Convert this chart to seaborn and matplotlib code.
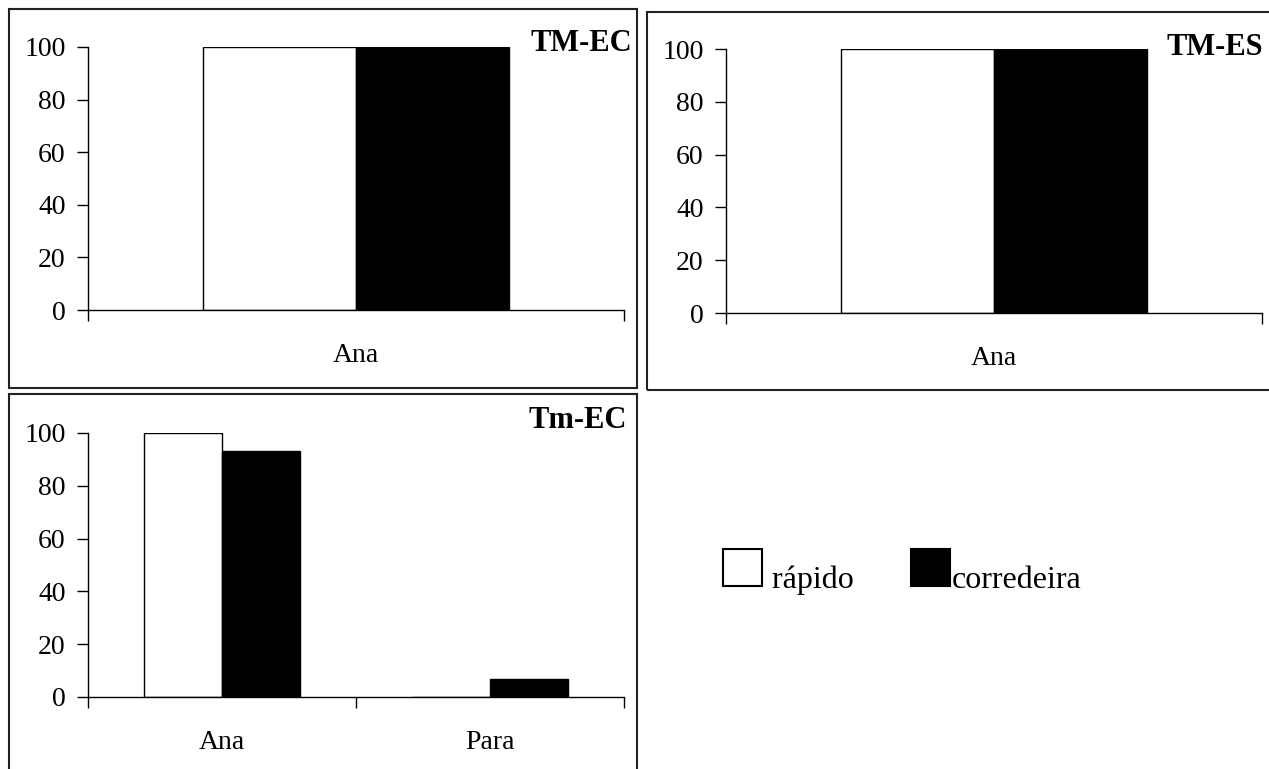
import matplotlib
matplotlib.use("Agg")
import matplotlib.pyplot as plt
import matplotlib.patches as mpatches
from matplotlib.legend_handler import HandlerPatch
import seaborn as sns
import pandas as pd

# ── DATA ──────────────────────────────────────────────────
SERIES = ["rápido", "corredeira"]

tm_ec_sites = ["Ana"]
tm_ec_rapido = [100]
tm_ec_corredeira = [100]

tm_es_sites = ["Ana"]
tm_es_rapido = [100]
tm_es_corredeira = [100]

tmin_ec_sites = ["Ana", "Para"]
tmin_ec_rapido = [100, 0]
tmin_ec_corredeira = [93, 7]

y_ticks = [0, 20, 40, 60, 80, 100]
# ─────────────────────────────────────────────────────────

W, H = 1269, 769
PALETTE = {"rápido": "white", "corredeira": "black"}


def long_table(sites, rapido, corredeira):
    return pd.DataFrame({
        "site": list(sites) * 2,
        "tipo": ["rápido"] * len(sites) + ["corredeira"] * len(sites),
        "valor": list(rapido) + list(corredeira),
    })


def px_rect(left, top, right, bottom):
    """pixel box -> figure fraction [l, b, w, h]"""
    return [left / W, 1 - bottom / H, (right - left) / W, (bottom - top) / H]


def draw_panel(fig, rect, df, sites, width):
    ax = fig.add_axes(rect)
    sns.barplot(data=df, x="site", y="valor", hue="tipo", order=sites,
                hue_order=SERIES, palette=PALETTE, width=width,
                edgecolor="black", linewidth=1, ax=ax)
    n = len(sites)
    ax.set_xlim(-0.5, n - 0.5)
    ax.set_ylim(0, 100)
    ax.set_yticks(y_ticks)
    ax.set_xlabel("")
    ax.set_ylabel("")
    ax.set_xticks(range(n))
    ax.set_xticklabels(sites)
    ax.set_xticks([i - 0.5 for i in range(n + 1)], minor=True)
    ax.tick_params(axis="x", which="major", bottom=True, length=0, pad=24,
                   labelsize=20, labelcolor="black")
    ax.tick_params(axis="x", which="minor", bottom=True, length=8, width=1,
                   direction="out", color="black")
    ax.tick_params(axis="y", which="major", left=True, length=8, width=1,
                   direction="out", pad=8, labelsize=20, color="black",
                   labelcolor="black")
    for side in ["top", "right"]:
        ax.spines[side].set_visible(False)
    for side in ["left", "bottom"]:
        ax.spines[side].set_color("black")
        ax.spines[side].set_linewidth(1)
    ax.grid(False)
    return ax


def raised_square(legend, orig_handle, xdescent, ydescent, width, height, fontsize):
    # square sits with its bottom just above the text baseline
    return mpatches.Rectangle((-xdescent, -ydescent + 7.4), width, height)


sns.set_style("white")
plt.rcParams["font.family"] = ["Liberation Serif", "DejaVu Serif"]
plt.rcParams["text.color"] = "black"

fig = plt.figure(figsize=(W / 100, H / 100), dpi=100)

# panel frames
for l, t, r, b in [(9, 9, 637, 388), (647, 12, 1280, 390), (9, 394, 637, 790)]:
    fig.add_artist(mpatches.Rectangle((l / W, 1 - b / H), (r - l) / W, (b - t) / H,
                                      transform=fig.transFigure, fill=False,
                                      edgecolor="#222222", linewidth=1.5))

ax1 = draw_panel(fig, px_rect(88, 47, 624, 310),
                 long_table(tm_ec_sites, tm_ec_rapido, tm_ec_corredeira),
                 tm_ec_sites, 0.57)
ax2 = draw_panel(fig, px_rect(726, 49, 1262, 313),
                 long_table(tm_es_sites, tm_es_rapido, tm_es_corredeira),
                 tm_es_sites, 0.57)
ax3 = draw_panel(fig, px_rect(88, 433, 624, 697),
                 long_table(tmin_ec_sites, tmin_ec_rapido, tmin_ec_corredeira),
                 tmin_ec_sites, 0.58)

# legend handles from seaborn, then one shared legend
leg = ax3.get_legend()
handles = list(leg.legend_handles)
for ax in (ax1, ax2, ax3):
    if ax.get_legend() is not None:
        ax.get_legend().remove()
for h, c in zip(handles, ["white", "black"]):
    h.set_facecolor(c)
    h.set_edgecolor("black")
    h.set_linewidth(1.5)

fig.legend(handles, [" rápido", "corredeira"], loc="upper left",
           bbox_to_anchor=(723 / W, 1 - 559 / H), ncol=2, frameon=False,
           fontsize=23, handlelength=1.22, handleheight=1.44,
           handletextpad=0.05, columnspacing=1.8, borderpad=0,
           borderaxespad=0,
           handler_map={h: HandlerPatch(patch_func=raised_square) for h in handles})

# panel titles
for txt, x, y in [("TM-EC", 632, 51), ("TM-ES", 1263, 55), ("Tm-EC", 627, 428)]:
    fig.text(x / W, 1 - y / H, txt, ha="right", va="baseline",
             fontsize=22, fontweight="bold")

fig.savefig("out.png", dpi=100, facecolor="white")
